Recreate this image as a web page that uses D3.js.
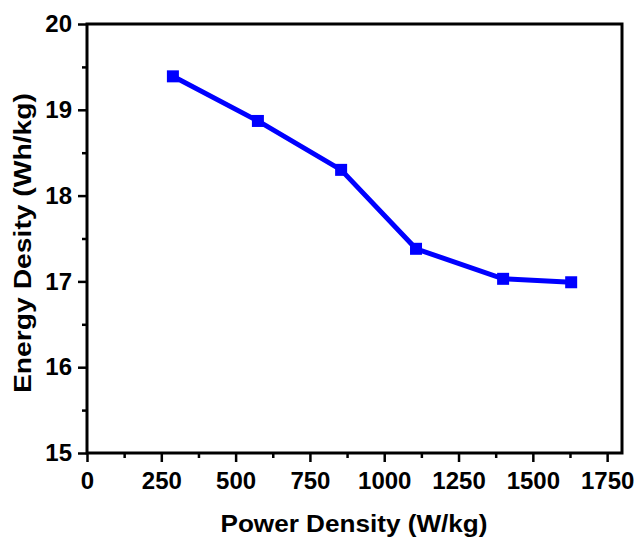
<!DOCTYPE html>
<html>
<head>
<meta charset="utf-8">
<script src="https://cdn.jsdelivr.net/npm/d3@7"></script>
<style>
  body { margin: 0; background: #fff; }
</style>
</head>
<body>
<script>
// data
var powerDensity = [289, 575, 855, 1107, 1400, 1629];
var energyDensity = [19.39, 18.87, 18.30, 17.38, 17.03, 16.99];
var xTicks = [0, 250, 500, 750, 1000, 1250, 1500, 1750];
var yTicks = [15, 16, 17, 18, 19, 20];

var margin = {top: 24, right: 18, bottom: 90, left: 87},
    width = 640 - margin.left - margin.right,
    height = 543 - margin.top - margin.bottom;

var font = "'Liberation Sans', Arial, sans-serif";

var svg = d3.select("body")
  .append("svg")
    .attr("width", 640)
    .attr("height", 543)
  .append("g")
    .attr("transform", "translate(" + margin.left + "," + margin.top + ")");

var x = d3.scaleLinear().domain([0, 1800]).range([0, width]);
var y = d3.scaleLinear().domain([15, 20]).range([height, 0]);

// minor ticks
var xMinor = d3.range(125, 1800, 250);
var yMinor = d3.range(15.5, 20, 1);

var xAxisMinor = svg.append("g")
    .attr("transform", "translate(0," + height + ")")
    .call(d3.axisBottom(x).tickValues(xMinor).tickSize(5).tickFormat(""));
var yAxisMinor = svg.append("g")
    .call(d3.axisLeft(y).tickValues(yMinor).tickSize(5).tickFormat(""));

var xAxis = svg.append("g")
    .attr("transform", "translate(0," + height + ")")
    .call(d3.axisBottom(x).tickValues(xTicks).tickSize(9).tickPadding(10).tickFormat(d3.format("d")));
var yAxis = svg.append("g")
    .call(d3.axisLeft(y).tickValues(yTicks).tickSize(9).tickPadding(6).tickFormat(d3.format("d")));

[xAxis, yAxis, xAxisMinor, yAxisMinor].forEach(function(a) {
  a.select(".domain").remove();
  a.selectAll("line").attr("stroke", "#000").attr("stroke-width", 2.5);
  a.selectAll("text")
    .style("font-family", font)
    .style("font-weight", "bold")
    .style("font-size", "24px")
    .attr("fill", "#000");
});

// frame
svg.append("rect")
    .attr("width", width)
    .attr("height", height)
    .attr("fill", "none")
    .attr("stroke", "#000")
    .attr("stroke-width", 3);

var pts = powerDensity.map(function(d, i) { return [d, energyDensity[i]]; });

svg.append("path")
    .datum(pts)
    .attr("fill", "none")
    .attr("stroke", "#0000ff")
    .attr("stroke-width", 5)
    .attr("d", d3.line().x(function(d) { return x(d[0]); }).y(function(d) { return y(d[1]); }));

svg.selectAll("rect.pt")
    .data(pts)
    .enter()
    .append("rect")
      .classed("pt", true)
      .attr("x", function(d) { return x(d[0]) - 6; })
      .attr("y", function(d) { return y(d[1]) - 6; })
      .attr("width", 12)
      .attr("height", 12)
      .attr("fill", "#0000ff");

// labels
var labels = d3.select("svg").append("g")
    .style("font-family", font)
    .style("font-weight", "bold")
    .style("font-size", "23px");
labels.append("text")
    .text("Power Density (W/kg)")
    .attr("text-anchor", "middle")
    .attr("x", 354)
    .attr("y", 532)
    .attr("textLength", 267)
    .attr("lengthAdjust", "spacingAndGlyphs");
labels.append("text")
    .text("Energy Desity (Wh/kg)")
    .attr("text-anchor", "middle")
    .attr("transform", "translate(31,243) rotate(-90)")
    .style("font-size", "24px")
    .attr("textLength", 300)
    .attr("lengthAdjust", "spacingAndGlyphs");
</script>
</body>
</html>
